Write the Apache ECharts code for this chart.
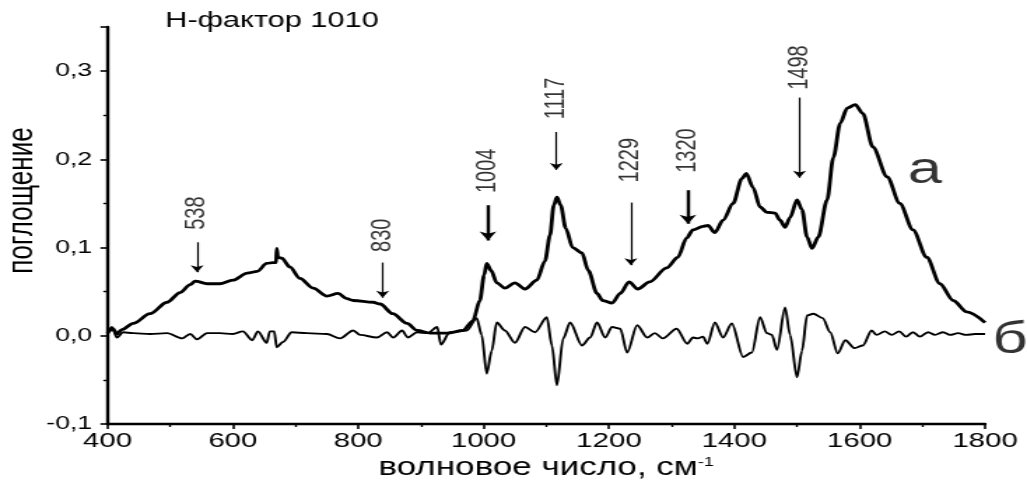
<!DOCTYPE html>
<html><head><meta charset="utf-8">
<script src="https://cdn.jsdelivr.net/npm/echarts@6/dist/echarts.min.js"></script>
<style>
html,body{margin:0;padding:0;background:#fff;overflow:hidden;width:1027px;height:487px}
#chart{width:734px;height:487px;transform:scaleX(1.3992);transform-origin:0 0}
</style></head><body><div id="chart"></div>
<script>
// ---- data ----
const titleText = 'Н-фактор 1010';
const yName = 'поглощение';
const xName = 'волновое число, см';
const xNameSup = '-1';
const curveNames = ['а', 'б'];

const aWave = [400,409,415,423,441,468,495,516,532,540,559,579,600,623,639,654,664,669,670,672,678,691,707,728,750,768,782,792,824,835,855,878,894,915,942,967,983,994,1001,1005,1012,1021,1034,1050,1066,1085,1098,1106,1112,1117,1123,1131,1142,1157,1167,1181,1190,1205,1218,1232,1246,1265,1292,1310,1324,1334,1350,1358,1369,1382,1398,1412,1419,1430,1441,1452,1465,1473,1481,1489,1500,1508,1516,1524,1534,1548,1558,1569,1580,1593,1605,1621,1644,1664,1685,1707,1728,1749,1771,1800];
const aAbs = [0.003,0.008,0.002,0.007,0.014,0.025,0.038,0.049,0.058,0.062,0.059,0.059,0.063,0.071,0.073,0.082,0.083,0.083,0.099,0.089,0.088,0.078,0.065,0.054,0.045,0.048,0.042,0.040,0.038,0.036,0.025,0.014,0.006,0.003,0.003,0.006,0.017,0.040,0.069,0.082,0.074,0.060,0.054,0.060,0.053,0.063,0.085,0.114,0.148,0.157,0.148,0.122,0.100,0.094,0.074,0.048,0.040,0.037,0.048,0.061,0.053,0.061,0.077,0.089,0.111,0.120,0.124,0.125,0.117,0.131,0.150,0.178,0.184,0.168,0.146,0.140,0.139,0.131,0.123,0.134,0.154,0.143,0.112,0.099,0.112,0.154,0.202,0.241,0.258,0.262,0.252,0.214,0.180,0.150,0.120,0.089,0.059,0.040,0.027,0.015];

const bWave = [400,407,415,425,441,468,495,519,532,543,559,579,600,616,631,640,654,659,666,670,680,694,718,750,771,792,803,830,846,856,870,879,894,911,926,932,946,973,989,997,1005,1013,1021,1034,1050,1066,1082,1101,1109,1117,1127,1138,1157,1170,1181,1194,1205,1218,1229,1245,1261,1273,1286,1308,1325,1334,1342,1350,1357,1369,1382,1396,1414,1428,1441,1452,1460,1468,1481,1489,1500,1508,1516,1526,1541,1553,1565,1577,1592,1605,1619,1627,1640,1651,1663,1674,1685,1696,1709,1720,1733,1744,1757,1770,1784,1800];
const bAbs = [0.003,0.010,-0.002,0.004,0.003,0.002,0.003,-0.003,0.002,-0.004,0.003,0.003,0.002,0.005,-0.005,0.005,-0.008,0.005,0.005,-0.013,-0.007,0.004,0.003,0.002,-0.003,0.006,0.001,-0.002,0.004,-0.002,0.006,-0.002,0.004,0.003,0.010,-0.010,0.004,0.006,0.020,0.001,-0.043,-0.017,0.015,0.006,-0.008,0.010,0.004,0.021,-0.011,-0.056,-0.003,0.015,-0.011,-0.002,0.015,-0.002,0.010,0.008,-0.019,0.012,-0.002,0.003,-0.003,0.008,-0.009,-0.002,-0.003,-0.001,-0.009,0.015,-0.002,0.014,-0.024,-0.019,0.021,0.003,0.001,-0.016,0.032,0.001,-0.047,-0.017,0.023,0.025,0.020,0.004,-0.020,-0.005,-0.014,-0.011,0.006,0.001,0.005,0.001,0.005,-0.001,0.004,-0.001,0.004,0.001,0.004,0.001,0.003,0.001,0.002,0.002];

// band annotations: label text, arrow position (wavenumber), label centre, arrow start, arrow tip (absorbance)
const annoText = ['538', '830', '1004', '1117', '1229', '1320', '1498'];
const annoWave = [543, 839, 1007, 1116, 1235, 1326, 1504];
const annoLabelY = [0.139, 0.114, 0.187, 0.269, 0.199, 0.210, 0.304];
const arrowTopY = [0.106, 0.083, 0.148, 0.231, 0.151, 0.165, 0.270];
const arrowTipY = [0.072, 0.043, 0.108, 0.188, 0.080, 0.127, 0.179];

// curve tags position (wavenumber, absorbance)
const tagWave = [1704, 1840];
const tagAbs = [0.1875, -0.006];

const xTicks = {min: 400, max: 1800, step: 200};
const yTicks = {min: -0.1, max: 0.35, step: 0.1};

// ---- chart ----
const FONT = '"Liberation Sans", Arial, sans-serif';
const boldArrows = ['1004', '1320'];
const chart = echarts.init(document.getElementById('chart'));

const zip = (xs, ys) => xs.map((x, i) => [x, ys[i]]);

const option = {
  animation: false,
  backgroundColor: '#fff',
  title: {
    text: titleText, left: 118, top: 10, padding: 0,
    textStyle: {fontFamily: FONT, fontSize: 22, fontWeight: 'normal', color: '#000'}
  },
  grid: {left: 76.8, right: 30, top: 27, bottom: 63, containLabel: false, outerBoundsMode: 'none'},
  xAxis: {
    type: 'value', min: xTicks.min, max: xTicks.max, interval: xTicks.step,
    name: '{t|' + xName + '}{s|' + xNameSup + '}',
    nameLocation: 'middle', nameGap: 32, nameMoveOverlap: false,
    nameTextStyle: {
      rich: {
        t: {fontFamily: FONT, fontSize: 25, color: '#000'},
        s: {fontFamily: FONT, fontSize: 13, color: '#000', verticalAlign: 'top'}
      }
    },
    axisLine: {show: true, onZero: false, lineStyle: {color: '#000', width: 2.4}},
    axisTick: {show: true, inside: false, length: 5, lineStyle: {color: '#000', width: 1.6}},
    minorTick: {show: true, splitNumber: 2, length: 3, lineStyle: {color: '#000', width: 1.4}},
    axisLabel: {fontFamily: FONT, fontSize: 21, color: '#000', margin: 7, formatter: v => String(v)},
    splitLine: {show: false}, minorSplitLine: {show: false}
  },
  yAxis: {
    type: 'value', min: yTicks.min, max: yTicks.max, interval: yTicks.step,
    name: yName, nameLocation: 'middle', nameRotate: 90, nameGap: 48, nameMoveOverlap: false,
    nameTextStyle: {fontFamily: FONT, fontSize: 26, color: '#000', padding: [0, 0, 0, 50]},
    axisLine: {show: true, onZero: false, lineStyle: {color: '#000', width: 2.4}},
    axisTick: {show: true, inside: false, length: 5, lineStyle: {color: '#000', width: 1.6}},
    minorTick: {show: true, splitNumber: 2, length: 3, lineStyle: {color: '#000', width: 1.4}},
    axisLabel: {
      fontFamily: FONT, fontSize: 19, color: '#000', margin: 11, showMaxLabel: false,
      formatter: v => (Math.abs(v - yTicks.max) < 1e-9 ? '' : v.toFixed(1).replace('.', ','))
    },
    splitLine: {show: false}, minorSplitLine: {show: false}
  },
  series: [
    {
      type: 'line', name: curveNames[1], data: zip(bWave, bAbs), showSymbol: false, symbol: 'none',
      smooth: 0.3, smoothMonotone: 'x', lineStyle: {color: '#000', width: 1.9}, z: 2
    },
    {
      type: 'line', name: curveNames[0], data: zip(aWave, aAbs), showSymbol: false, symbol: 'none',
      smooth: 0.3, smoothMonotone: 'x', lineStyle: {color: '#000', width: 2.8}, z: 3
    },
    {
      type: 'scatter', name: 'bands', symbolSize: 0, clip: false, silent: true,
      data: annoWave.map((x, i) => [x, annoLabelY[i], annoText[i]]),
      label: {show: true, position: 'inside', rotate: 90, formatter: p => p.value[2],
              fontFamily: FONT, fontSize: 20, color: '#000'},
      markLine: {
        silent: true, animation: false, symbol: ['none', 'arrow'], symbolSize: 7,
        label: {show: false},
        data: annoWave.map((x, i) => {
          const bold = boldArrows.includes(annoText[i]);
          const ls = {color: '#000', width: bold ? 2.4 : 1.2, type: 'solid'};
          return [
            {coord: [x, arrowTopY[i]], lineStyle: ls, symbolSize: bold ? 9 : 7},
            {coord: [x, arrowTipY[i]], lineStyle: ls, symbolSize: bold ? 9 : 7}
          ];
        })
      },
      z: 4
    },
    {
      type: 'scatter', name: 'tags', symbolSize: 0, clip: false, silent: true,
      data: tagWave.map((x, i) => [x, tagAbs[i], curveNames[i]]),
      label: {show: true, position: 'inside', formatter: p => p.value[2],
              fontFamily: FONT, fontSize: 44, color: '#000'},
      z: 4
    }
  ]
};
chart.setOption(option);
</script></body></html>
